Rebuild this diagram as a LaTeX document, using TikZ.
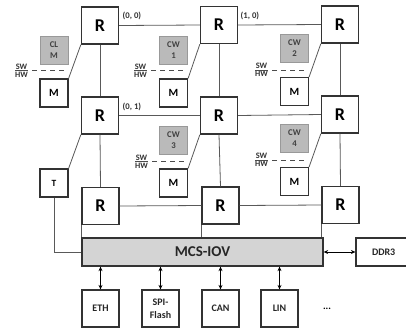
\documentclass[tikz,border=0pt]{standalone}
\usepackage{fontspec}
\setmainfont{Carlito}
\usetikzlibrary{arrows.meta,calc}
\begin{document}
\begin{tikzpicture}[x=1pt,y=-1pt,
 rbox/.style={draw=black!80, line width=1.3pt, fill=white, minimum size=37pt, inner sep=0pt, font=\fontsize{18}{18}\selectfont\bfseries},
 mbox/.style={draw=black!80, line width=1.2pt, fill=white, minimum size=28pt, inner sep=0pt, font=\fontsize{11}{11}\selectfont\bfseries},
 cwbox/.style={draw=black!40, fill=black!27, line width=1pt, minimum size=28pt, inner sep=0pt, align=center, font=\fontsize{8.8}{11}\selectfont\bfseries, text=black!75},
 iobox/.style={draw=black!80, line width=1.2pt, minimum width=37pt, minimum height=37pt, inner sep=0pt, align=center, font=\fontsize{10}{13}\selectfont\bfseries, text=black!85},
 link/.style={draw=black!65, line width=0.8pt},
 biarrow/.style={draw=black, line width=0.8pt, {Stealth[length=4.5pt,width=4pt]}-{Stealth[length=4.5pt,width=4pt]}},
 lbl/.style={font=\fontsize{8.7}{8.7}\selectfont\bfseries, text=black!80, inner sep=0pt},
 swlbl/.style={font=\fontsize{8.3}{8.3}\selectfont\bfseries, text=black!80, inner sep=0pt},
 swdash/.style={draw=black!70, line width=0.9pt, dash pattern=on 5pt off 4pt},
 swbar/.style={draw=black!70, line width=0.9pt}]
\clip (0,0) rectangle (406,330);
\fill[white] (0,0) rectangle (406,330);
% routers
\node[rbox] (R00) at (100,25.5) {R};
\node[rbox] (R10) at (219,25) {R};
\node[rbox] (R20) at (340,24.5) {R};
\node[rbox] (R01) at (100,115.5) {R};
\node[rbox] (R11) at (219,115.5) {R};
\node[rbox] (R21) at (340,114.5) {R};
\node[rbox] (R02) at (100.5,206) {R};
\node[rbox] (R12) at (220.5,205.5) {R};
\node[rbox] (R22) at (340.5,205) {R};
% MCS-IOV
\node[draw=black!80, fill=black!17, line width=1.3pt, minimum width=241pt, minimum height=28pt, inner sep=0pt, font=\fontsize{15}{15}\selectfont\bfseries, text=black!85] (MCS) at (202.5,252) {MCS-IOV};
% mesh links
\draw[link] (R00.east) -- (R10.west);
\draw[link] (R10.east) -- (R20.west);
\draw[link] (R01.east) -- (R11.west);
\draw[link] (R11.east) -- (R21.west);
\draw[link] (R02.east) -- (R12.west);
\draw[link] (R12.east) -- (R22.west);
\draw[link] (R00.south) -- (R01.north);
\draw[link] (R01.south) -- (R02.north);
\draw[link] (R10.south) -- (R11.north);
\draw[link] (R11.south) -- (R12.north);
\draw[link] (R20.south) -- (R21.north);
\draw[link] (R21.south) -- (R22.north);
\draw[link] (R02.south west) -- (R02.south west |- MCS.north);
\draw[link] (R12.south west) -- (R12.south west |- MCS.north);
\draw[link] (R22.south west) -- (R22.south west |- MCS.north);
% coordinates labels
\node[lbl, anchor=west] (l00) at (122.5,16) {(0, 0)};
\node[lbl, anchor=west] (l10) at (240.5,16) {(1, 0)};
\node[lbl, anchor=west] (l01) at (122.5,107) {(0, 1)};
% cores and memories
\node[cwbox] (CLM) at (54,50) {CL\\M};
\node[mbox] (M0) at (54,93) {M};
\node[cwbox] (CW1) at (173.5,50) {CW\\1};
\node[mbox] (M1) at (173.5,93) {M};
\node[cwbox] (CW2) at (294.5,48.5) {CW\\2};
\node[mbox] (M2) at (294.5,91.5) {M};
\node[cwbox] (CW3) at (173.5,140) {CW\\3};
\node[mbox] (M3) at (173.5,183) {M};
\node[cwbox] (CW4) at (294.5,138.5) {CW\\4};
\node[mbox] (M4) at (294.5,181.5) {M};
\node[mbox] (T) at (54,183) {\fontsize{9.5}{9.5}\selectfont T};
\draw[link] (M0.north east) -- (R00.south west);
\draw[link] (M1.north east) -- (R10.south west);
\draw[link] (M2.north east) -- (R20.south west);
\draw[link] (M3.north east) -- (R11.south west);
\draw[link] (M4.north east) -- (R21.south west);
\draw[link] (T.north east) -- (R01.south west);
\draw[link] (T.south) |- (MCS.west);
% SW/HW separators
\foreach \n/\x/\y/\e in {a/15/70.5/66, b/134/70.5/186, c/255/70/306, d/135/161.5/186, e/255/160/306}{
  \coordinate (s\n) at (\x,\y);
  \coordinate (t\n) at (\x+13,\y);
  \coordinate (u\n) at (\e,\y);
  \node[swlbl, anchor=south] at ($(s\n)!0.5!(t\n)+(0,-1.2)$) {SW};
  \node[swlbl, anchor=north] at ($(s\n)!0.5!(t\n)+(0,1.2)$) {HW};
  \draw[swbar] (s\n) -- (t\n);
  \draw[swdash] ([xshift=4pt]t\n) -- (u\n);
}
% IO
\node[iobox] (ETH) at (100.5,308.5) {ETH};
\node[iobox] (SPI) at (160.5,308.5) {SPI-\\Flash};
\node[iobox] (CAN) at (220.5,308.5) {CAN};
\node[iobox] (LIN) at (279.5,308.5) {LIN};
\node[font=\fontsize{10}{10}\selectfont\bfseries, inner sep=0pt] (dots) at (327,309) {...};
\draw[biarrow] (MCS.south -| ETH.north) -- (ETH.north);
\draw[biarrow] (MCS.south -| SPI.north) -- (SPI.north);
\draw[biarrow] (MCS.south -| CAN.north) -- (CAN.north);
\draw[biarrow] (MCS.south -| LIN.north) -- (LIN.north);
\node[draw=black!80, line width=1.2pt, minimum width=56pt, minimum height=28pt, inner sep=0pt, font=\fontsize{10}{10}\selectfont\bfseries, text=black!85, text width=54pt, align=left] (DDR) at (384,252) {\hspace*{15pt}DDR3};
\draw[biarrow] (MCS.east) -- (DDR.west);
\end{tikzpicture}
\end{document}
